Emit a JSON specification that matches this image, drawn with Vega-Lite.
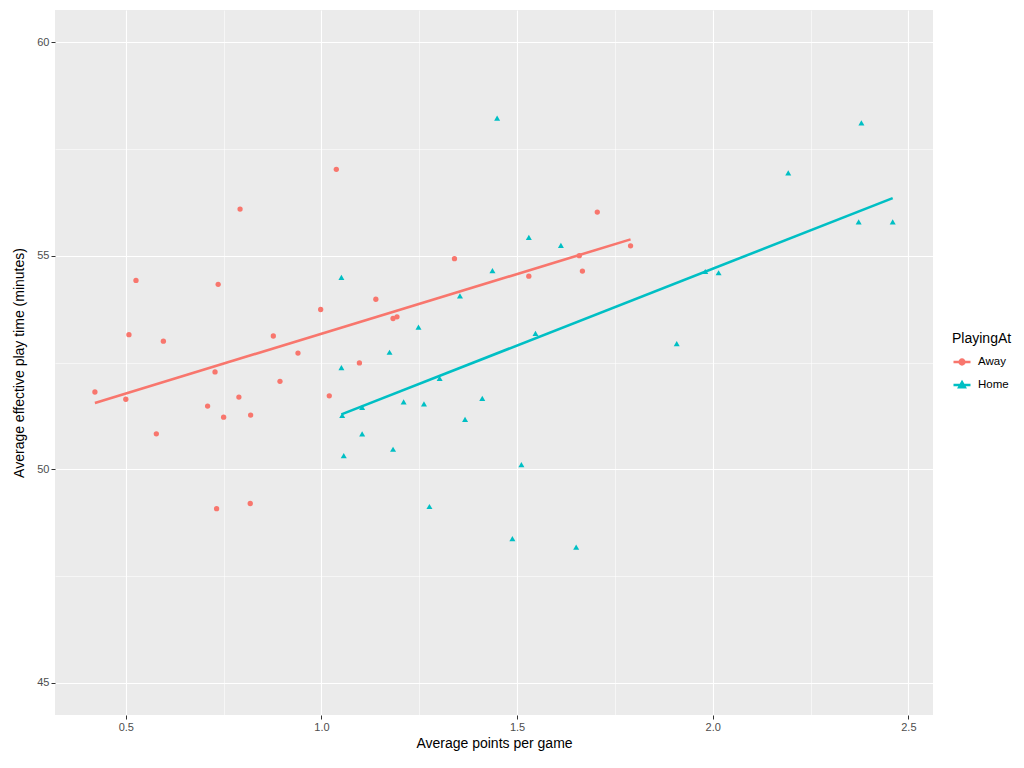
{
  "$schema": "https://vega.github.io/schema/vega-lite/v6.json",
  "width": 878,
  "height": 705,
  "autosize": {"type": "none"},
  "padding": {"left": 55, "top": 10, "right": 91, "bottom": 53},
  "background": "white",
  "config": {
    "view": {"fill": "#EBEBEB", "stroke": null},
    "font": "Liberation Sans",
    "axis": {
      "domain": false,
      "gridColor": "white",
      "tickColor": "#333333",
      "tickSize": 4,
      "labelColor": "#4D4D4D",
      "labelFontSize": 11,
      "titleColor": "black",
      "titleFontSize": 14,
      "titleFontWeight": "normal",
      "labelPadding": 2
    }
  },
  "data": {
    "values": [
      {"PlayingAt": "Away", "points": 1.038, "playtime": 57.02},
      {"PlayingAt": "Away", "points": 0.792, "playtime": 56.09},
      {"PlayingAt": "Away", "points": 0.526, "playtime": 54.42},
      {"PlayingAt": "Away", "points": 0.736, "playtime": 54.33},
      {"PlayingAt": "Away", "points": 0.998, "playtime": 53.74},
      {"PlayingAt": "Away", "points": 0.508, "playtime": 53.15},
      {"PlayingAt": "Away", "points": 0.596, "playtime": 53.0},
      {"PlayingAt": "Away", "points": 0.877, "playtime": 53.12},
      {"PlayingAt": "Away", "points": 0.94, "playtime": 52.72},
      {"PlayingAt": "Away", "points": 0.728, "playtime": 52.28},
      {"PlayingAt": "Away", "points": 0.894, "playtime": 52.06},
      {"PlayingAt": "Away", "points": 0.421, "playtime": 51.81},
      {"PlayingAt": "Away", "points": 0.5, "playtime": 51.64},
      {"PlayingAt": "Away", "points": 0.789, "playtime": 51.69},
      {"PlayingAt": "Away", "points": 1.02, "playtime": 51.72},
      {"PlayingAt": "Away", "points": 0.709, "playtime": 51.48},
      {"PlayingAt": "Away", "points": 0.75, "playtime": 51.22},
      {"PlayingAt": "Away", "points": 0.819, "playtime": 51.27},
      {"PlayingAt": "Away", "points": 0.578, "playtime": 50.83},
      {"PlayingAt": "Away", "points": 0.732, "playtime": 49.08},
      {"PlayingAt": "Away", "points": 0.818, "playtime": 49.2},
      {"PlayingAt": "Away", "points": 1.139, "playtime": 53.98},
      {"PlayingAt": "Away", "points": 1.183, "playtime": 53.53},
      {"PlayingAt": "Away", "points": 1.193, "playtime": 53.57},
      {"PlayingAt": "Away", "points": 1.097, "playtime": 52.49},
      {"PlayingAt": "Away", "points": 1.34, "playtime": 54.93},
      {"PlayingAt": "Away", "points": 1.53, "playtime": 54.52},
      {"PlayingAt": "Away", "points": 1.705, "playtime": 56.02},
      {"PlayingAt": "Away", "points": 1.659, "playtime": 55.0},
      {"PlayingAt": "Away", "points": 1.667, "playtime": 54.64},
      {"PlayingAt": "Away", "points": 1.79, "playtime": 55.23},
      {"PlayingAt": "Home", "points": 1.051, "playtime": 54.49},
      {"PlayingAt": "Home", "points": 1.051, "playtime": 52.38},
      {"PlayingAt": "Home", "points": 1.053, "playtime": 51.26},
      {"PlayingAt": "Home", "points": 1.057, "playtime": 50.32},
      {"PlayingAt": "Home", "points": 1.104, "playtime": 51.45},
      {"PlayingAt": "Home", "points": 1.104, "playtime": 50.83},
      {"PlayingAt": "Home", "points": 1.174, "playtime": 52.74},
      {"PlayingAt": "Home", "points": 1.183, "playtime": 50.47},
      {"PlayingAt": "Home", "points": 1.21, "playtime": 51.58},
      {"PlayingAt": "Home", "points": 1.248, "playtime": 53.33},
      {"PlayingAt": "Home", "points": 1.262, "playtime": 51.53},
      {"PlayingAt": "Home", "points": 1.302, "playtime": 52.13},
      {"PlayingAt": "Home", "points": 1.276, "playtime": 49.13},
      {"PlayingAt": "Home", "points": 1.354, "playtime": 54.06},
      {"PlayingAt": "Home", "points": 1.367, "playtime": 51.17},
      {"PlayingAt": "Home", "points": 1.411, "playtime": 51.66},
      {"PlayingAt": "Home", "points": 1.437, "playtime": 54.65},
      {"PlayingAt": "Home", "points": 1.449, "playtime": 58.22},
      {"PlayingAt": "Home", "points": 1.488, "playtime": 48.38},
      {"PlayingAt": "Home", "points": 1.511, "playtime": 50.11},
      {"PlayingAt": "Home", "points": 1.53, "playtime": 55.43},
      {"PlayingAt": "Home", "points": 1.547, "playtime": 53.18},
      {"PlayingAt": "Home", "points": 1.612, "playtime": 55.24},
      {"PlayingAt": "Home", "points": 1.651, "playtime": 48.18},
      {"PlayingAt": "Home", "points": 1.908, "playtime": 52.94},
      {"PlayingAt": "Home", "points": 1.981, "playtime": 54.63},
      {"PlayingAt": "Home", "points": 2.015, "playtime": 54.6},
      {"PlayingAt": "Home", "points": 2.193, "playtime": 56.94},
      {"PlayingAt": "Home", "points": 2.38, "playtime": 58.11},
      {"PlayingAt": "Home", "points": 2.373, "playtime": 55.79},
      {"PlayingAt": "Home", "points": 2.46, "playtime": 55.79}
    ]
  },
  "encoding": {
    "x": {
      "field": "points",
      "type": "quantitative",
      "title": "Average points per game",
      "scale": {"domain": [0.319, 2.563], "nice": false, "zero": false},
      "axis": {
        "values": [0.5, 0.75, 1, 1.25, 1.5, 1.75, 2, 2.25, 2.5],
        "labelExpr": "(datum.value * 4) % 2 == 0 ? format(datum.value, '.1f') : ''",
        "gridWidth": {"condition": {"test": "(datum.value * 4) % 2 == 0", "value": 1.1}, "value": 0.55},
        "tickOpacity": {"condition": {"test": "(datum.value * 4) % 2 == 0", "value": 1}, "value": 0},
        "titlePadding": 4
      }
    },
    "y": {
      "field": "playtime",
      "type": "quantitative",
      "title": "Average effective play time (minutes)",
      "scale": {"domain": [44.25, 60.75], "nice": false, "zero": false},
      "axis": {
        "values": [45, 47.5, 50, 52.5, 55, 57.5, 60],
        "labelExpr": "datum.value % 5 == 0 ? datum.label : ''",
        "gridWidth": {"condition": {"test": "datum.value % 5 == 0", "value": 1.1}, "value": 0.55},
        "tickOpacity": {"condition": {"test": "datum.value % 5 == 0", "value": 1}, "value": 0},
        "titlePadding": 10
      }
    },
    "color": {
      "field": "PlayingAt",
      "type": "nominal",
      "scale": {"domain": ["Away", "Home"], "range": ["#F8766D", "#00BFC4"]},
      "legend": {
        "orient": "none",
        "legendX": 897,
        "legendY": 322,
        "title": "PlayingAt",
        "titleFontSize": 14,
        "titleFontWeight": "normal",
        "titleColor": "black",
        "labelFontSize": 11.5,
        "labelColor": "black",
        "labelOffset": 6,
        "symbolSize": 289,
        "symbolStrokeWidth": 2.5,
        "rowPadding": 5,
        "titlePadding": 6,
        "encode": {
          "symbols": {
            "update": {
              "shape": {"signal": "datum.value == 'Away' ? 'M-1,0H1M0.28,0A0.28,0.28,0,1,1,-0.28,0A0.28,0.28,0,1,1,0.28,0Z' : 'M-1,0H1M0,-0.33L0.33,0.25L-0.33,0.25Z'"},
              "fill": {"signal": "datum.value == 'Away' ? '#F8766D' : '#00BFC4'"},
              "stroke": {"signal": "datum.value == 'Away' ? '#F8766D' : '#00BFC4'"},
              "opacity": {"value": 1}
            }
          }
        }
      }
    }
  },
  "layer": [
    {
      "transform": [{"filter": "datum.PlayingAt == 'Away'"}],
      "mark": {"type": "point", "filled": true, "opacity": 1, "size": 28, "shape": "circle"}
    },
    {
      "transform": [{"filter": "datum.PlayingAt == 'Home'"}],
      "mark": {"type": "point", "filled": true, "opacity": 1, "size": 36, "shape": "triangle-up"}
    },
    {
      "transform": [{"regression": "playtime", "on": "points", "groupby": ["PlayingAt"]}],
      "mark": {"type": "line", "strokeWidth": 2.6},
      "encoding": {}
    }
  ]
}
